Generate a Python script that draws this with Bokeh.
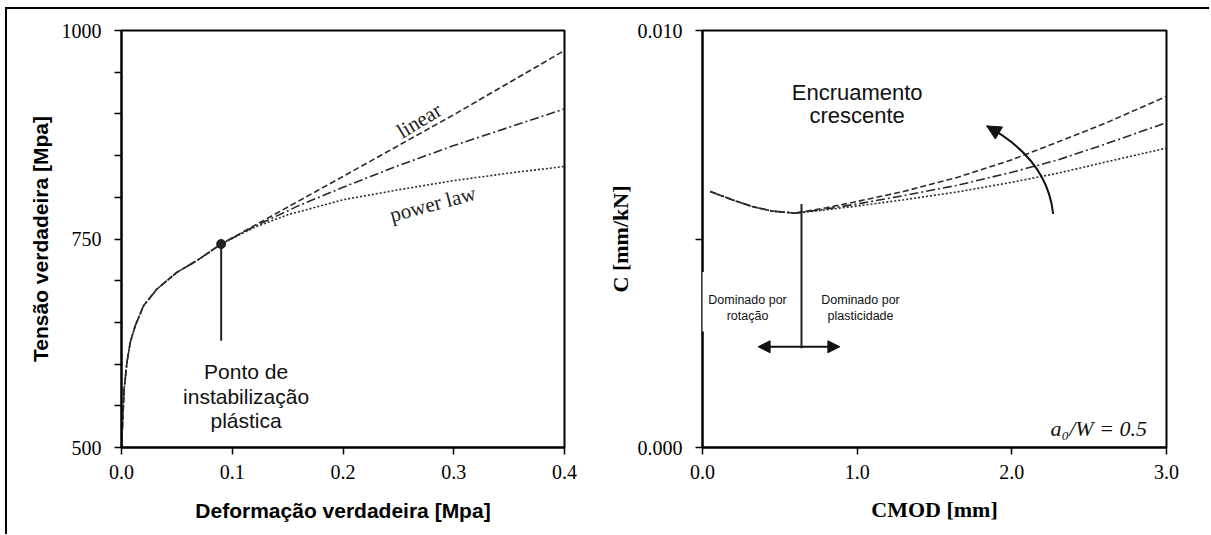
import math
from bokeh.plotting import figure
from bokeh.models import (FixedTicker, PrintfTickFormatter, Label, Arrow,
                          NormalHead, BoxAnnotation, ColumnDataSource)
from bokeh.layouts import row
from bokeh.embed import file_html
from bokeh.resources import INLINE

# ---------------- data: left panel (true stress-strain) ----------------
strain_common = [0.0, 0.0005, 0.0013, 0.0024, 0.0049, 0.0079, 0.0124, 0.0199, 0.032, 0.050, 0.068, 0.090]
stress_common = [500, 515, 538, 570, 602, 626, 646, 670, 690, 710, 724, 744]

strain_linear = [0.09, 0.2, 0.3, 0.4]
stress_linear = [744, 825, 899, 976]

strain_mixed = [0.09, 0.12, 0.16, 0.2, 0.25, 0.3, 0.35, 0.4]
stress_mixed = [744, 765, 790, 812, 838, 862, 884, 906]

strain_power = [0.09, 0.12, 0.15, 0.2, 0.25, 0.3, 0.35, 0.4]
stress_power = [744, 764, 779, 797, 809, 820, 829, 837]

instab_strain = 0.09
instab_stress = 744

left_xticks = [0.0, 0.1, 0.2, 0.3, 0.4]
left_yticks = [500, 750, 1000]
left_yminor = [550, 600, 650, 700, 800, 850, 900, 950]

# ---------------- data: right panel (compliance vs CMOD) ----------------
cmod_common = [0.05, 0.2, 0.33, 0.45, 0.6]
c_common = [0.00614, 0.00593, 0.00577, 0.00567, 0.00562]

cmod_branch = [0.6, 0.8, 1.0, 1.3, 1.65, 2.0, 2.3, 2.6, 3.0]
c_linear = [0.00562, 0.00575, 0.00590, 0.00614, 0.00648, 0.00690, 0.00733, 0.00777, 0.00842]
c_mixed = [0.00562, 0.00572, 0.00584, 0.00604, 0.00629, 0.00660, 0.00690, 0.00727, 0.00779]
c_power = [0.00562, 0.00570, 0.00579, 0.00594, 0.00613, 0.00636, 0.00658, 0.00684, 0.00718]

right_xticks = [0.0, 1.0, 2.0, 3.0]
right_yticks = [0.0, 0.010]
right_yminor = [0.005]

SERIF = "Liberation Serif"
SANS = "Liberation Sans"
CURVE = "#2a2a2a"
DASH = {"linear": "6 3", "mixed": "9 3 2 3", "power": "2 2"}


def style_axes(p):
    for ax in (p.xaxis[0], p.yaxis[0]):
        ax.axis_line_width = 2
        ax.axis_line_color = "black"
        ax.major_tick_in = 0
        ax.major_tick_out = 7
        ax.minor_tick_in = 0
        ax.minor_tick_out = 7
        ax.major_tick_line_width = 1.5
        ax.minor_tick_line_width = 1.5
        ax.major_tick_line_color = "black"
        ax.minor_tick_line_color = "black"
        ax.major_label_text_font = SERIF
        ax.major_label_text_font_size = "20px"
        ax.major_label_text_color = "black"
        ax.axis_label_text_color = "black"
    p.xaxis[0].major_label_standoff = 10
    p.yaxis[0].major_label_standoff = 13
    p.xgrid.visible = False
    p.ygrid.visible = False
    p.outline_line_color = "black"
    p.outline_line_width = 2
    p.outline_line_alpha = 1
    p.background_fill_color = "white"
    p.border_fill_color = "white"


# ======================= LEFT =======================
p1 = figure(width=592, height=520, x_range=(0, 0.4), y_range=(500, 1000),
            output_backend="svg", toolbar_location=None,
            min_border_left=114, min_border_right=35, min_border_top=21, min_border_bottom=82)
style_axes(p1)
p1.xaxis[0].ticker = FixedTicker(ticks=left_xticks)
p1.xaxis[0].formatter = PrintfTickFormatter(format="%.1f")
p1.yaxis[0].ticker = FixedTicker(ticks=left_yticks, minor_ticks=left_yminor)
p1.yaxis[0].formatter = PrintfTickFormatter(format="%d")
p1.xaxis[0].axis_label = "Deformação verdadeira [Mpa]"
p1.yaxis[0].axis_label = "Tensão verdadeira [Mpa]"
for ax in (p1.xaxis[0], p1.yaxis[0]):
    ax.axis_label_text_font = SANS
    ax.axis_label_text_font_style = "bold"
    ax.axis_label_text_font_size = "21px"
p1.xaxis[0].axis_label_standoff = 17
p1.yaxis[0].axis_label_standoff = 7

for key, xs, ys in (("linear", strain_linear, stress_linear),
                    ("mixed", strain_mixed, stress_mixed),
                    ("power", strain_power, stress_power)):
    src = ColumnDataSource(dict(x=strain_common[:-1] + xs, y=stress_common[:-1] + ys))
    p1.line("x", "y", source=src, line_color=CURVE, line_width=1.6, line_dash=DASH[key])

p1.segment(x0=[instab_strain], y0=[instab_stress], x1=[instab_strain], y1=[628],
           line_color="#222222", line_width=2)
p1.scatter(x=[instab_strain], y=[instab_stress], size=9, fill_color="#222222", line_color="#222222")

p1.add_layout(Label(x=0.2687, y=892, text="linear", angle=math.radians(31),
                    text_align="center", text_baseline="middle",
                    text_font=SERIF, text_font_size="21px", text_color="#222222"))
p1.add_layout(Label(x=0.281, y=792, text="power law", angle=math.radians(15),
                    text_align="center", text_baseline="middle",
                    text_font=SERIF, text_font_size="21px", text_color="#222222"))
for txt, yy in (("Ponto de", 591.5), ("instabilização", 561.5), ("plástica", 532.8)):
    p1.add_layout(Label(x=0.1125, y=yy, text=txt, text_align="center",
                        text_baseline="alphabetic", text_font=SANS,
                        text_font_size="21px", text_color="#111111"))

# ======================= RIGHT =======================
p2 = figure(width=598, height=520, x_range=(0, 3.0), y_range=(0, 0.010),
            output_backend="svg", toolbar_location=None,
            min_border_left=103, min_border_right=31, min_border_top=21, min_border_bottom=82)
style_axes(p2)
p2.xaxis[0].ticker = FixedTicker(ticks=right_xticks)
p2.xaxis[0].formatter = PrintfTickFormatter(format="%.1f")
p2.yaxis[0].ticker = FixedTicker(ticks=right_yticks, minor_ticks=right_yminor)
p2.yaxis[0].formatter = PrintfTickFormatter(format="%.3f")
p2.xaxis[0].axis_label = "CMOD [mm]"
p2.yaxis[0].axis_label = "C [mm/kN]"
for ax in (p2.xaxis[0], p2.yaxis[0]):
    ax.axis_label_text_font = SERIF
    ax.axis_label_text_font_style = "bold"
    ax.axis_label_text_font_size = "22px"
p2.xaxis[0].axis_label_standoff = 15
p2.yaxis[0].axis_label_standoff = 2

for key, ys in (("linear", c_linear), ("mixed", c_mixed), ("power", c_power)):
    src = ColumnDataSource(dict(x=cmod_common[:-1] + cmod_branch, y=c_common[:-1] + ys))
    p2.line("x", "y", source=src, line_color=CURVE, line_width=1.6, line_dash=DASH[key])

# transition marker
p2.segment(x0=[0.64], y0=[0.00584], x1=[0.64], y1=[0.00238], line_color="#222222", line_width=2)
p2.add_layout(Arrow(x_start=0.3595, y_start=0.002416, x_end=0.888, y_end=0.002416,
                    line_width=2, line_color="#111111",
                    start=NormalHead(size=12, fill_color="#111111", line_color="#111111"),
                    end=NormalHead(size=12, fill_color="#111111", line_color="#111111")))

# curved arrow "Encruamento crescente"
p2.quadratic(x0=[2.267], y0=[0.00560], x1=[1.838], y1=[0.00771], cx=[2.231], cy=[0.00691],
             line_color="#111111", line_width=2)
p2.add_layout(Arrow(x_start=1.8913, y_start=0.007595, x_end=1.838, y_end=0.00771,
                    line_width=2, line_color="#111111",
                    end=NormalHead(size=14, fill_color="#111111", line_color="#111111")))

# white box behind the left text (covers part of the axis like the original)
p2.add_layout(BoxAnnotation(left=-0.04, right=0.58, bottom=0.00278, top=0.00421,
                            fill_color="white", fill_alpha=1.0, line_color=None,
                            level="annotation"))

for txt, xx, yy in (("Dominado por", 0.291, 0.003533), ("rotação", 0.291, 0.003165),
                    ("Dominado por", 1.0216, 0.003533), ("plasticidade", 1.0216, 0.003165)):
    p2.add_layout(Label(x=xx, y=yy, text=txt, text_align="center", text_baseline="alphabetic",
                        text_font=SANS, text_font_size="12.5px", text_color="#111111"))

for txt, yy in (("Encruamento", 0.008517), ("crescente", 0.007957)):
    p2.add_layout(Label(x=1.0, y=yy, text=txt, text_align="center", text_baseline="alphabetic",
                        text_font=SANS, text_font_size="22px", text_color="#111111"))

p2.add_layout(Label(x=2.874, y=0.000455, text="a₀/W = 0.5", text_align="right",
                    text_baseline="alphabetic", text_font=SERIF, text_font_style="italic",
                    text_font_size="22px", text_color="#111111"))

layout = row(p1, p2, styles={"border-left": "2px solid black", "border-top": "2px solid black",
                             "margin-left": "5px", "margin-top": "7px",
                             "padding-bottom": "5px", "padding-right": "12px"})

with open("out.html", "w") as f:
    f.write(file_html(layout, INLINE))
